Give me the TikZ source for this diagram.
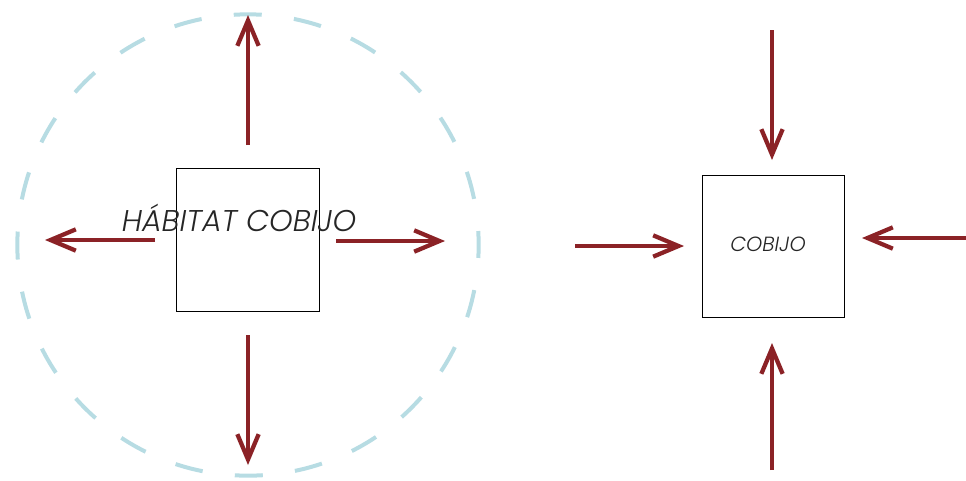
\documentclass[tikz,border=0pt]{standalone}
\usepackage{fontspec}
\setmainfont{Poppins}[UprightFont=* Light, ItalicFont=* Light Italic]
\usetikzlibrary{arrows.meta}
\definecolor{flecha}{HTML}{8B2226}
\definecolor{halo}{HTML}{B7DCE3}

\begin{document}
\begin{tikzpicture}[
    x=0.75pt, y=-0.75pt,
    caja/.style={draw=black, line width=0.8pt, minimum width=107pt, minimum height=107pt, inner sep=0pt},
    flec/.style={draw=flecha, line width=3pt, -{Straight Barb[length=19pt, width=16pt, line width=3.2pt]}},
    rotulo/.style={font=\itshape, text=black!85}
  ]
  \useasboundingbox (0,0) rectangle (966,480);
  % Dashed habitat circle
  \draw[halo, line width=3pt, dash pattern=on 21pt off 24.33pt, dash phase=10.5pt] (248,245) circle[radius=173pt];
  % Left box
  \node[caja] (hab) at (248,240) {};
  \node[rotulo, font=\itshape\fontsize{22.5}{22.5}\selectfont] (habt) at (239,218) {HÁBITAT COBIJO};
  \coordinate (hN) at (248,15);
  \coordinate (hS) at (248,465);
  \coordinate (hW) at (45,240);
  \coordinate (hE) at (445,241);
  % Outward arrows
  \draw[flec] (248,145) -- (hN);
  \draw[flec] (248,335) -- (hS);
  \draw[flec] (155,240) -- (hW);
  \draw[flec] (336,241) -- (hE);

  % Right box
  \node[caja] (cob) at (773.5,246.5) {};
  \node[rotulo, font=\itshape\fontsize{15.4}{15.4}\selectfont] (cobt) at (768,244) {COBIJO};
  \coordinate (cN) at (772,30);
  \coordinate (cS) at (772,470);
  \coordinate (cW) at (575,246);
  \coordinate (cE) at (966,238);
  % Inward arrows
  \draw[flec] (cN) -- (772,160);
  \draw[flec] (cS) -- (772,343);
  \draw[flec] (cW) -- (684,246);
  \draw[flec] (cE) -- (862,238);
\end{tikzpicture}
\end{document}
